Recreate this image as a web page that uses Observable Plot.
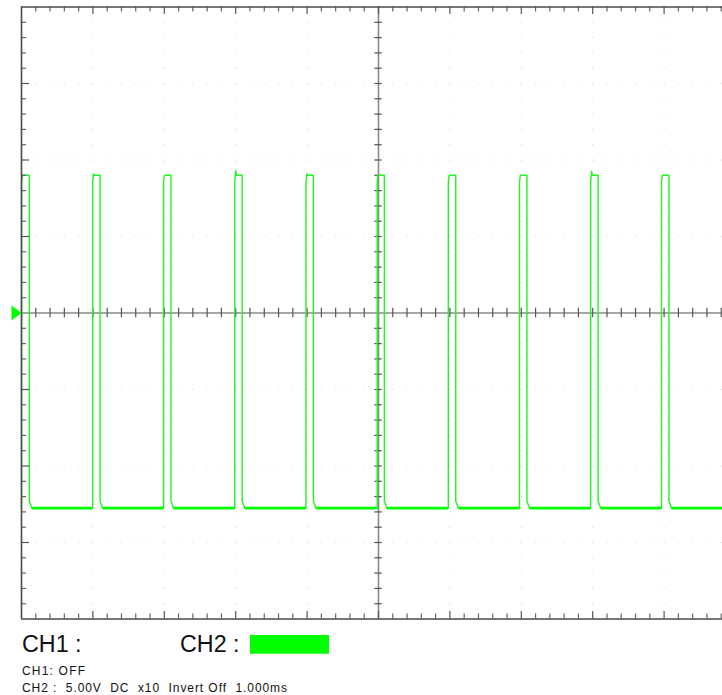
<!DOCTYPE html>
<html>
<head>
<meta charset="utf-8">
<script src="https://cdn.jsdelivr.net/npm/d3@7"></script>
<script src="https://cdn.jsdelivr.net/npm/@observablehq/plot@0.6"></script>
<style>
  html, body { margin: 0; padding: 0; background: #fff; }
  #wrap { position: relative; width: 722px; height: 695px; overflow: hidden; font-family: "Liberation Sans", Arial, sans-serif; }
  #wrap svg { display: block; }
</style>
</head>
<body>
<div id="wrap"></div>
<script>
// ---- data (time in ms, voltage in V, 1 ms/div, 5 V/div) ----
const riseTimes   = [0, 0.997, 1.99, 2.987, 3.984, 4.982, 5.978, 6.975, 7.972, 8.964];
const pulseWidths = [0.11, 0.104, 0.104, 0.104, 0.104, 0.10, 0.104, 0.104, 0.104, 0.104];
const peakLevels  = [9.0, 9.1, 9.0, 9.3, 9.1, 9.0, 9.0, 9.0, 9.25, 9.0];
const highLevel = 9.0;
const lowLevel = -12.75;
const timeEnd = 9.818;           // visible right edge of the screen (ms)
const legendBig = ["CH1 :", "CH2 :"];
const legendSmall = ["CH1: OFF", "CH2 :  5.00V  DC  x10  Invert Off  1.000ms"];

// ---- waveform points ----
const wave = [];
riseTimes.forEach((t, i) => {
  const f = t + pulseWidths[i];
  wave.push({t, v: lowLevel});
  wave.push({t, v: highLevel - 0.4});
  wave.push({t: t + 0.012, v: peakLevels[i]});
  wave.push({t: t + 0.025, v: highLevel});
  wave.push({t: f, v: highLevel});
  wave.push({t: f, v: lowLevel + 0.45});
  wave.push({t: f + 0.035, v: lowLevel});
});
wave.push({t: timeEnd, v: lowLevel});
// flat low segments (drawn thicker, like the noisy trace)
const lowSegs = [];
riseTimes.forEach((t, i) => {
  const start = t + pulseWidths[i] + 0.035;
  const end = i + 1 < riseTimes.length ? riseTimes[i + 1] : timeEnd;
  lowSegs.push({x1: start, x2: end, y: lowLevel});
});

// ---- screen geometry ----
const W = 722, H = 625, mL = 21, mT = 6.5, mB = 6.5, mR = 0;
const frameW = W - mL - mR, frameH = H - mT - mB;
const vPerPx = 40 / frameH, msPerPx = timeEnd / frameW;

const xMinor = d3.range(0, timeEnd + 1e-9, 0.2).filter(x => Math.abs(x - Math.round(x)) > 1e-6);
const xMajor = d3.range(1, 10, 1);
const yMinor = d3.range(-20, 20.001, 1).filter(y => Math.abs(y / 5 - Math.round(y / 5)) > 1e-6);
const yMajor = [-15, -10, -5, 5, 10, 15];

const gridDots = [];
for (const x of xMajor) if (x !== 5) for (const y of yMinor.concat(yMajor)) gridDots.push({x, y});
for (const y of yMajor) for (const x of xMinor.concat(xMajor)) if (x !== 5) gridDots.push({x, y});

const green = "#00ff00";
const trig = { draw(ctx) { ctx.moveTo(-5, -7.5); ctx.lineTo(5, 0); ctx.lineTo(-5, 7.5); ctx.closePath(); } };

const plot = Plot.plot({
  width: W, height: H,
  marginLeft: mL, marginRight: mR, marginTop: mT, marginBottom: mB,
  x: {domain: [0, timeEnd], axis: null},
  y: {domain: [-20, 20], axis: null},
  style: {background: "#fff", overflow: "visible"},
  marks: [
    Plot.dot(gridDots, {x: "x", y: "y", r: 0.6, fill: "#d6d6d6", stroke: null}),
    // centre crosshair
    Plot.ruleY([0], {stroke: "#8a8a8a", strokeWidth: 1.6}),
    Plot.ruleX([5], {stroke: "#8a8a8a", strokeWidth: 1.6}),
    Plot.ruleX(xMinor.concat(xMajor.filter(x => x !== 5)), {x: d => d, y1: -4.8 * vPerPx, y2: 4.8 * vPerPx, stroke: "#555", strokeWidth: 1.2}),
    Plot.ruleY(yMinor.concat(yMajor), {y: d => d, x1: 5 - 3.7 * msPerPx, x2: 5 + 3.7 * msPerPx, stroke: "#555", strokeWidth: 1.2}),
    // trace
    Plot.line(wave, {x: "t", y: "v", stroke: "#22f522", strokeWidth: 1.4, curve: "linear"}),
    Plot.link(lowSegs, {x1: "x1", x2: "x2", y1: "y", y2: "y", stroke: green, strokeWidth: 2.6}),
    // edge ticks
    Plot.ruleX(xMinor, {x: d => d, insetBottom: frameH - 5, stroke: "#666", strokeWidth: 1.2}),
    Plot.ruleX(xMajor, {x: d => d, insetBottom: frameH - 7.5, stroke: "#555", strokeWidth: 1.2}),
    Plot.ruleX(xMinor, {x: d => d, insetTop: frameH - 5, stroke: "#666", strokeWidth: 1.2}),
    Plot.ruleX(xMajor, {x: d => d, insetTop: frameH - 7.5, stroke: "#555", strokeWidth: 1.2}),
    Plot.ruleY(yMinor, {y: d => d, insetRight: frameW - 5, stroke: "#666", strokeWidth: 1.2}),
    Plot.ruleY(yMajor, {y: d => d, insetRight: frameW - 8, stroke: "#555", strokeWidth: 1.2}),
    // border (right side is off screen)
    Plot.ruleY([20, -20], {stroke: "#4a4a4a", strokeWidth: 1.5}),
    Plot.ruleX([0], {stroke: "#4a4a4a", strokeWidth: 1.6}),
    // trigger level marker
    Plot.dot([0], {x: () => 0, y: () => 0, symbol: trig, r: 5, dx: -5, fill: green, stroke: null})
  ]
});
const wrap = document.getElementById("wrap");
wrap.appendChild(plot);

// ---- legend / status text below the screen ----
const leg = d3.select(wrap).append("svg").attr("width", W).attr("height", 695 - H)
  .style("font-family", '"Liberation Sans", Arial, sans-serif');
leg.append("text").attr("x", 22).attr("y", 651.7 - H).attr("font-size", 23.3).attr("fill", "#111").text(legendBig[0]);
leg.append("text").attr("x", 180).attr("y", 651.7 - H).attr("font-size", 23.3).attr("fill", "#111").text(legendBig[1]);
leg.append("rect").attr("x", 250).attr("y", 635 - H).attr("width", 79).attr("height", 18.7).attr("fill", green);
leg.append("text").attr("x", 22).attr("y", 675 - H).attr("font-size", 12).attr("fill", "#111")
  .attr("textLength", 63).attr("lengthAdjust", "spacing").style("white-space", "pre").text(legendSmall[0]);
leg.append("text").attr("x", 22).attr("y", 691.5 - H).attr("font-size", 12).attr("fill", "#111")
  .attr("textLength", 265).attr("lengthAdjust", "spacing").style("white-space", "pre").text(legendSmall[1]);
</script>
</body>
</html>
